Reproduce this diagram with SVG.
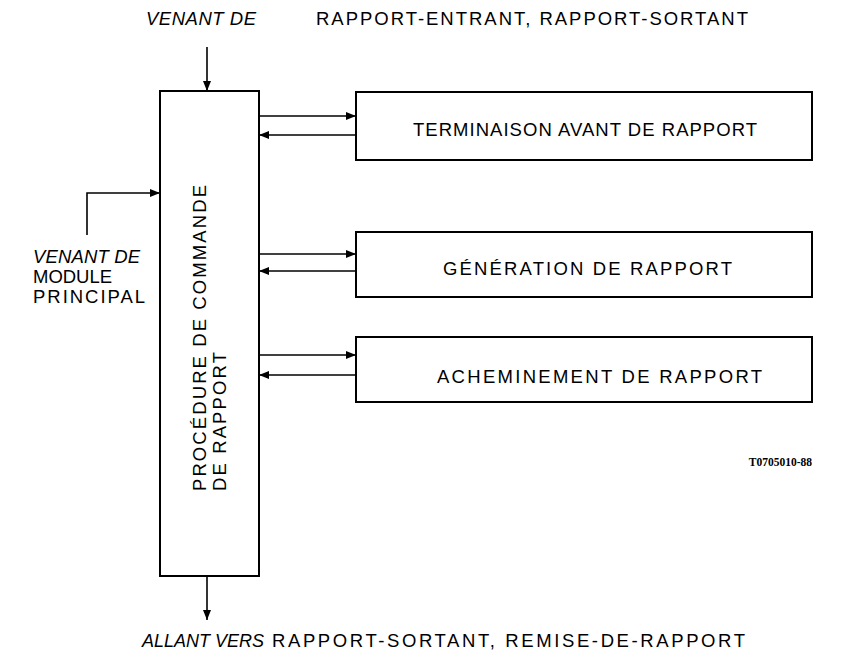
<svg xmlns="http://www.w3.org/2000/svg" width="845" height="657" viewBox="0 0 845 657">
<defs>
<marker id="ah" viewBox="0 0 10 8" refX="10" refY="4" markerWidth="10" markerHeight="8" markerUnits="userSpaceOnUse" orient="auto">
<path d="M0,0 L10,4 L0,8 Z" fill="#000"/>
</marker>
<style>
.t{font-family:"Liberation Sans",Arial,sans-serif;font-size:18.5px;fill:#000}
.i{font-style:italic}
.box{fill:#fff;stroke:#000;stroke-width:2}
.c{fill:none;stroke:#000;stroke-width:1.6;marker-end:url(#ah)}
.ref{font-family:"Liberation Serif",serif;font-weight:bold;font-size:11.5px;fill:#000}
</style>
</defs>
<rect width="845" height="657" fill="#fff"/>

<g id="main">
<rect class="box" x="160" y="91" width="99" height="485"/>
<g transform="translate(206,491) rotate(-90)">
<text class="t" x="0" y="0" textLength="306" lengthAdjust="spacing">PROCÉDURE DE COMMANDE</text>
<text class="t" x="0" y="20" textLength="139" lengthAdjust="spacing">DE RAPPORT</text>
</g>
</g>

<g id="terminaison">
<rect class="box" x="356" y="92" width="456" height="68"/>
<text class="t" x="413" y="136" textLength="344" lengthAdjust="spacing">TERMINAISON AVANT DE RAPPORT</text>
</g>

<g id="generation">
<rect class="box" x="356" y="232" width="456" height="65"/>
<text class="t" x="443" y="275" textLength="289" lengthAdjust="spacing">GÉNÉRATION DE RAPPORT</text>
</g>

<g id="acheminement">
<rect class="box" x="356" y="337" width="456" height="65"/>
<text class="t" x="437" y="383" textLength="325" lengthAdjust="spacing">ACHEMINEMENT DE RAPPORT</text>
</g>

<g id="labels">
<text class="t i" x="146" y="25" textLength="110" lengthAdjust="spacing">VENANT DE</text>
<text class="t" x="316" y="25" textLength="432" lengthAdjust="spacing">RAPPORT-ENTRANT, RAPPORT-SORTANT</text>
<text class="t i" x="33" y="263" textLength="107" lengthAdjust="spacing">VENANT DE</text>
<text class="t" x="33" y="283" textLength="79" lengthAdjust="spacing">MODULE</text>
<text class="t" x="33" y="303" textLength="112" lengthAdjust="spacing">PRINCIPAL</text>
<text class="t i" x="142" y="647" textLength="122" lengthAdjust="spacingAndGlyphs">ALLANT VERS</text>
<text class="t" x="272" y="647" textLength="473" lengthAdjust="spacing">RAPPORT-SORTANT, REMISE-DE-RAPPORT</text>
<text class="ref" x="812" y="466" text-anchor="end">T0705010-88</text>
</g>

<g id="connectors">
<path class="c" d="M207,47 V91"/>
<path class="c" d="M87,235 V193 H160"/>
<path class="c" d="M207,576 V620"/>
<path class="c" d="M259,116 H356"/>
<path class="c" d="M356,135 H259"/>
<path class="c" d="M259,254 H356"/>
<path class="c" d="M356,271 H259"/>
<path class="c" d="M259,355 H356"/>
<path class="c" d="M356,375 H259"/>
</g>
</svg>
